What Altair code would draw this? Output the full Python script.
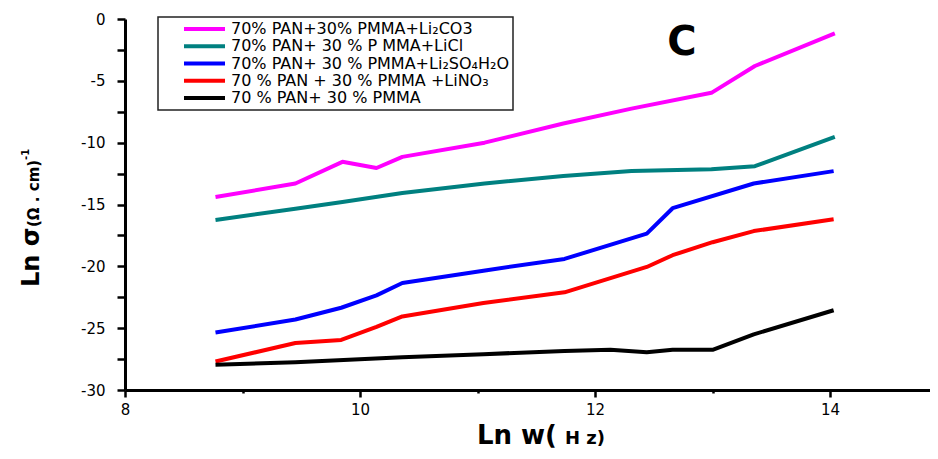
import altair as alt
import pandas as pd

# ---------------- data ----------------
SERIES = [
    "70% PAN+30% PMMA+Li₂CO3",
    "70% PAN+  30 %  P MMA+LiCl",
    " 70% PAN+ 30 % PMMA+Li₂SO₄H₂O",
    "70 % PAN + 30 % PMMA +LiNO₃",
    " 70 % PAN+ 30 % PMMA",
]
COLORS = ["#FF00FF", "#008080", "#0000FF", "#FF0000", "#000000"]

X_LI2CO3 = [8.77, 9.45, 9.85, 10.14, 10.36, 11.06, 11.73, 12.31, 12.99, 13.36, 14.04]
Y_LI2CO3 = [-14.4, -13.3, -11.55, -12.05, -11.15, -10.0, -8.45, -7.25, -5.97, -3.8, -1.16]

X_LICL = [8.77, 9.45, 9.85, 10.36, 11.06, 11.73, 12.31, 12.99, 13.36, 14.04]
Y_LICL = [-16.25, -15.35, -14.8, -14.07, -13.3, -12.7, -12.3, -12.15, -11.9, -9.53]

X_LI2SO4 = [8.77, 9.45, 9.84, 10.14, 10.36, 11.05, 11.74, 12.44, 12.66, 13.35, 14.03]
Y_LI2SO4 = [-25.35, -24.3, -23.35, -22.35, -21.35, -20.35, -19.4, -17.35, -15.3, -13.3, -12.3]

X_LINO3 = [8.77, 9.45, 9.84, 10.14, 10.36, 11.05, 11.74, 12.44, 12.66, 13.0, 13.35, 14.03]
Y_LINO3 = [-27.7, -26.2, -25.95, -24.9, -24.05, -22.97, -22.1, -20.05, -19.1, -18.05, -17.15, -16.2]

X_PURE = [8.77, 9.45, 10.36, 11.05, 11.74, 12.13, 12.44, 12.66, 13.0, 13.35, 14.03]
Y_PURE = [-27.95, -27.75, -27.35, -27.1, -26.85, -26.75, -26.95, -26.75, -26.75, -25.5, -23.55]

X_TICKS = [8, 9, 10, 11, 12, 13, 14]
Y_TICKS = [-30, -27.5, -25, -22.5, -20, -17.5, -15, -12.5, -10, -7.5, -5, -2.5, 0]

X_TITLE = ["Ln w(", "H z)"]
Y_TITLE = ["Ln σ", "(Ω . cm)", "-1"]
PANEL = ["C"]

# ---------------- table ----------------
XS = [X_LI2CO3, X_LICL, X_LI2SO4, X_LINO3, X_PURE]
YS = [Y_LI2CO3, Y_LICL, Y_LI2SO4, Y_LINO3, Y_PURE]
rows = []
for name, xs, ys in zip(SERIES, XS, YS):
    for i, (a, b) in enumerate(zip(xs, ys)):
        rows.append({"series": name, "lnw": a, "lns": b, "idx": i})
df = pd.DataFrame(rows)

W, H = 805, 371
FONT = "DejaVu Sans"

lines = alt.Chart(df).mark_line(strokeWidth=4, strokeJoin="round").encode(
    x=alt.X(
        "lnw:Q",
        scale=alt.Scale(domain=[8, 14.85], nice=False, zero=False),
        axis=alt.Axis(
            values=X_TICKS,
            labelExpr="datum.value % 2 === 0 ? '' + datum.value : ''",
            title=None,
            grid=False,
            domainColor="black",
            domainWidth=3,
            tickColor="black",
            tickWidth=2.5,
            tickSize={"condition": {"test": "datum.value % 2 === 0", "value": 7}, "value": 3},
            labelFont=FONT,
            labelFontSize=15,
            labelColor="black",
            labelPadding=5,
            labelFlush=False,
        ),
    ),
    y=alt.Y(
        "lns:Q",
        scale=alt.Scale(domain=[-30, 0], nice=False, zero=False),
        axis=alt.Axis(
            values=Y_TICKS,
            labelExpr="datum.value % 5 === 0 ? '' + datum.value : ''",
            title=None,
            grid=False,
            domainColor="black",
            domainWidth=3,
            tickColor="black",
            tickWidth=2.5,
            tickSize=8,
            labelFont=FONT,
            labelFontSize=15,
            labelColor="black",
            labelPadding=12,
            labelFlush=False,
        ),
    ),
    color=alt.Color(
        "series:N",
        scale=alt.Scale(domain=SERIES, range=COLORS),
        legend=alt.Legend(
            title=None,
            orient="none",
            legendX=33,
            legendY=-2,
            symbolType="stroke",
            symbolSize=1681,
            symbolStrokeWidth=4,
            clipHeight=16,
            labelFont=FONT,
            labelFontSize=16,
            labelColor="black",
            labelLimit=500,
            padding=4,
            symbolOffset=20,
            labelOffset=4,
            rowPadding=1.25,
            strokeColor="#222222",
            fillColor="white",
        ),
    ),
    order="idx:Q",
)

xt1 = alt.Chart(pd.DataFrame({"t": [X_TITLE[0]]})).mark_text(
    font=FONT, fontSize=26, fontWeight="bold", align="right", baseline="alphabetic", color="black"
).encode(text="t:N", x=alt.value(432), y=alt.value(425))
xt2 = alt.Chart(pd.DataFrame({"t": [X_TITLE[1]]})).mark_text(
    font=FONT, fontSize=18, fontWeight="bold", align="left", baseline="alphabetic", color="black"
).encode(text="t:N", x=alt.value(440), y=alt.value(425))

yt1 = alt.Chart(pd.DataFrame({"t": [Y_TITLE[0]]})).mark_text(
    font=FONT, fontSize=24, fontWeight="bold", align="left", baseline="alphabetic", angle=270, color="black"
).encode(text="t:N", x=alt.value(-86), y=alt.value(268))
yt2 = alt.Chart(pd.DataFrame({"t": [Y_TITLE[1]]})).mark_text(
    font=FONT, fontSize=15, fontWeight="bold", align="left", baseline="alphabetic", angle=270, color="black"
).encode(text="t:N", x=alt.value(-86), y=alt.value(208))
yt3 = alt.Chart(pd.DataFrame({"t": [Y_TITLE[2]]})).mark_text(
    font=FONT, fontSize=10, fontWeight="bold", align="left", baseline="alphabetic", angle=270, color="black"
).encode(text="t:N", x=alt.value(-96), y=alt.value(141))

panel = alt.Chart(pd.DataFrame({"t": PANEL})).mark_text(
    font=FONT, fontSize=40, fontWeight="bold", align="center", baseline="alphabetic", color="black"
).encode(text="t:N", x=alt.value(557), y=alt.value(36))

chart = (
    alt.layer(lines, xt1, xt2, yt1, yt2, yt3, panel)
    .properties(
        width=W,
        height=H,
        autosize=alt.AutoSizeParams(type="none"),
        padding={"left": 117, "top": 11, "right": 0, "bottom": 61},
        background="white",
    )
    .configure_view(stroke=None)
    .configure_legend(strokeWidth=1.5)
)

chart.save("out.html", embed_options={"renderer": "svg", "actions": False})
